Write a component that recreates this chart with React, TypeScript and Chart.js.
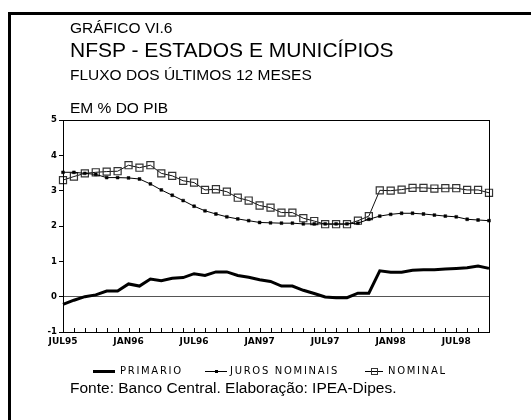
import React, { useEffect, useRef } from "react";
import { Chart, registerables } from "chart.js";
Chart.register(...registerables);

const months = [
  "JUL95","AGO95","SET95","OUT95","NOV95","DEZ95",
  "JAN96","FEV96","MAR96","ABR96","MAI96","JUN96","JUL96","AGO96","SET96","OUT96","NOV96","DEZ96",
  "JAN97","FEV97","MAR97","ABR97","MAI97","JUN97","JUL97","AGO97","SET97","OUT97","NOV97","DEZ97",
  "JAN98","FEV98","MAR98","ABR98","MAI98","JUN98","JUL98","AGO98","SET98","OUT98",
];

const primario = [
  -0.22, -0.10, 0.00, 0.05, 0.16, 0.16, 0.36, 0.30, 0.50, 0.45,
  0.52, 0.54, 0.65, 0.60, 0.70, 0.70, 0.60, 0.55, 0.48, 0.43,
  0.30, 0.30, 0.18, 0.09, -0.01, -0.03, -0.03, 0.10, 0.10, 0.73,
  0.69, 0.69, 0.75, 0.76, 0.76, 0.78, 0.80, 0.82, 0.87, 0.80,
];

const jurosNominais = [
  3.52, 3.52, 3.49, 3.46, 3.37, 3.37, 3.36, 3.33, 3.19, 3.02,
  2.87, 2.72, 2.56, 2.43, 2.34, 2.26, 2.20, 2.15, 2.10, 2.09,
  2.08, 2.08, 2.06, 2.06, 2.06, 2.06, 2.06, 2.08, 2.19, 2.28,
  2.33, 2.36, 2.36, 2.34, 2.31, 2.28, 2.26, 2.19, 2.17, 2.15,
];

const nominal = [
  3.30, 3.40, 3.49, 3.52, 3.54, 3.55, 3.72, 3.65, 3.72, 3.49,
  3.42, 3.28, 3.23, 3.02, 3.04, 2.97, 2.80, 2.72, 2.58, 2.52,
  2.38, 2.38, 2.22, 2.14, 2.05, 2.05, 2.05, 2.15, 2.28, 3.01,
  3.00, 3.03, 3.08, 3.08, 3.06, 3.07, 3.07, 3.02, 3.02, 2.94,
];

const seriesNames = ["PRIMARIO", "JUROS NOMINAIS", "NOMINAL"];
const yMin = -1;
const yMax = 5;
const labelEvery = 6;

const titleSmall = "GRÁFICO VI.6";
const titleMain = "NFSP - ESTADOS E MUNICÍPIOS";
const subtitle = "FLUXO DOS ÚLTIMOS 12 MESES";
const unitLabel = "EM % DO PIB";
const source = "Fonte: Banco Central. Elaboração: IPEA-Dipes.";

const SANS = "'Liberation Sans', Arial, sans-serif";
const WIDE = "'DejaVu Sans', sans-serif";

const framePlugin = {
  id: "frameAndTicks",
  afterDraw(chart: any) {
    const { ctx, chartArea: a, scales } = chart;
    const xs = scales.x;
    ctx.save();
    ctx.strokeStyle = "#000";
    ctx.lineWidth = 1;
    ctx.beginPath();
    for (let i = 0; i < months.length; i++) {
      const px = Math.round(xs.getPixelForValue(i)) + 0.5;
      ctx.moveTo(px, a.bottom);
      ctx.lineTo(px, a.bottom - 4);
    }
    ctx.stroke();
    ctx.strokeRect(
      Math.round(a.left) + 0.5,
      Math.round(a.top) + 0.5,
      Math.round(a.right - a.left),
      Math.round(a.bottom - a.top)
    );
    ctx.restore();
  },
};

function ChartCanvas() {
  const ref = useRef<HTMLCanvasElement | null>(null);
  useEffect(() => {
    if (!ref.current) return;
    const chart = new Chart(ref.current, {
      type: "line",
      data: {
        labels: months,
        datasets: [
          {
            label: seriesNames[0],
            data: primario,
            borderColor: "#000",
            borderWidth: 3,
            pointRadius: 0,
            tension: 0,
          },
          {
            label: seriesNames[1],
            data: jurosNominais,
            borderColor: "#000",
            borderWidth: 1,
            pointStyle: "rect",
            pointRadius: 2,
            pointBackgroundColor: "#000",
            pointBorderColor: "#000",
            pointBorderWidth: 0.5,
            tension: 0,
          },
          {
            label: seriesNames[2],
            data: nominal,
            borderColor: "#111",
            borderWidth: 1,
            pointStyle: "rect",
            pointRadius: 5,
            pointBackgroundColor: "rgba(0,0,0,0)",
            pointBorderColor: "#333",
            pointBorderWidth: 1.2,
            tension: 0,
          },
        ],
      },
      options: {
        animation: false,
        responsive: false,
        devicePixelRatio: 1,
        events: [],
        layout: { padding: { left: 0, top: 120, right: 42, bottom: 68 } },
        plugins: { legend: { display: false }, tooltip: { enabled: false } },
        scales: {
          x: {
            type: "category",
            offset: false,
            border: { display: false },
            grid: { display: false, drawTicks: false },
            afterFit: (s: any) => {
              s.height = 20;
            },
            ticks: {
              autoSkip: false,
              maxRotation: 0,
              minRotation: 0,
              padding: 4,
              color: "#000",
              font: { family: WIDE, size: 9, weight: "bold" },
              callback: (_v: any, i: number) => (i % labelEvery === 0 ? months[i] : ""),
            },
          },
          y: {
            min: yMin,
            max: yMax,
            border: { display: false },
            afterFit: (s: any) => {
              s.width = 63;
            },
            grid: {
              drawTicks: true,
              tickLength: 4,
              tickColor: "#000",
              lineWidth: 1,
              color: (c: any) => (c.tick && c.tick.value === 0 ? "#555" : "rgba(0,0,0,0)"),
            },
            ticks: {
              stepSize: 1,
              padding: 2,
              color: "#000",
              font: { family: WIDE, size: 8.5, weight: "bold" },
            },
          },
        },
      },
      plugins: [framePlugin],
    });
    return () => chart.destroy();
  }, []);
  return (
    <canvas
      ref={ref}
      width={531}
      height={420}
      style={{ position: "absolute", left: 0, top: 0, width: 531, height: 420 }}
    />
  );
}

function Text({ left, top, size, children, family = SANS, spacing = 0 }: any) {
  return (
    <div
      style={{
        position: "absolute",
        left,
        top,
        fontSize: size,
        lineHeight: 1,
        fontFamily: family,
        letterSpacing: spacing,
        whiteSpace: "nowrap",
        color: "#000",
      }}
    >
      {children}
    </div>
  );
}

function LegendLine({ left, width, thick }: any) {
  return (
    <div
      style={{
        position: "absolute",
        left,
        top: thick ? 370 : 371,
        width,
        height: thick ? 3 : 1,
        background: "#000",
      }}
    />
  );
}

export default function App() {
  return (
    <div
      style={{
        position: "fixed",
        left: 0,
        top: 0,
        width: 531,
        height: 420,
        overflow: "hidden",
        background: "#fff",
      }}
    >
      <div
        style={{
          position: "absolute",
          left: 8,
          top: 12,
          width: 600,
          height: 500,
          borderLeft: "3px solid #000",
          borderTop: "3px solid #000",
        }}
      />
      <ChartCanvas />
      <Text left={70} top={20} size={15.5}>{titleSmall}</Text>
      <Text left={70} top={39} size={21}>{titleMain}</Text>
      <Text left={70} top={67} size={15.5}>{subtitle}</Text>
      <Text left={70} top={100} size={15.5}>{unitLabel}</Text>

      <LegendLine left={93} width={22} thick />
      <Text left={120} top={366} size={10} family={WIDE} spacing={1.7}>{seriesNames[0]}</Text>

      <LegendLine left={205} width={22} />
      <div style={{ position: "absolute", left: 214.5, top: 369.5, width: 3, height: 3, background: "#000" }} />
      <Text left={230} top={366} size={10} family={WIDE} spacing={1.7}>{seriesNames[1]}</Text>

      <LegendLine left={365} width={18} />
      <div
        style={{
          position: "absolute",
          left: 370.5,
          top: 367.5,
          width: 7,
          height: 7,
          boxSizing: "border-box",
          border: "1px solid #333",
        }}
      />
      <Text left={388} top={366} size={10} family={WIDE} spacing={1.7}>{seriesNames[2]}</Text>

      <Text left={70} top={380} size={15.5}>{source}</Text>
    </div>
  );
}
